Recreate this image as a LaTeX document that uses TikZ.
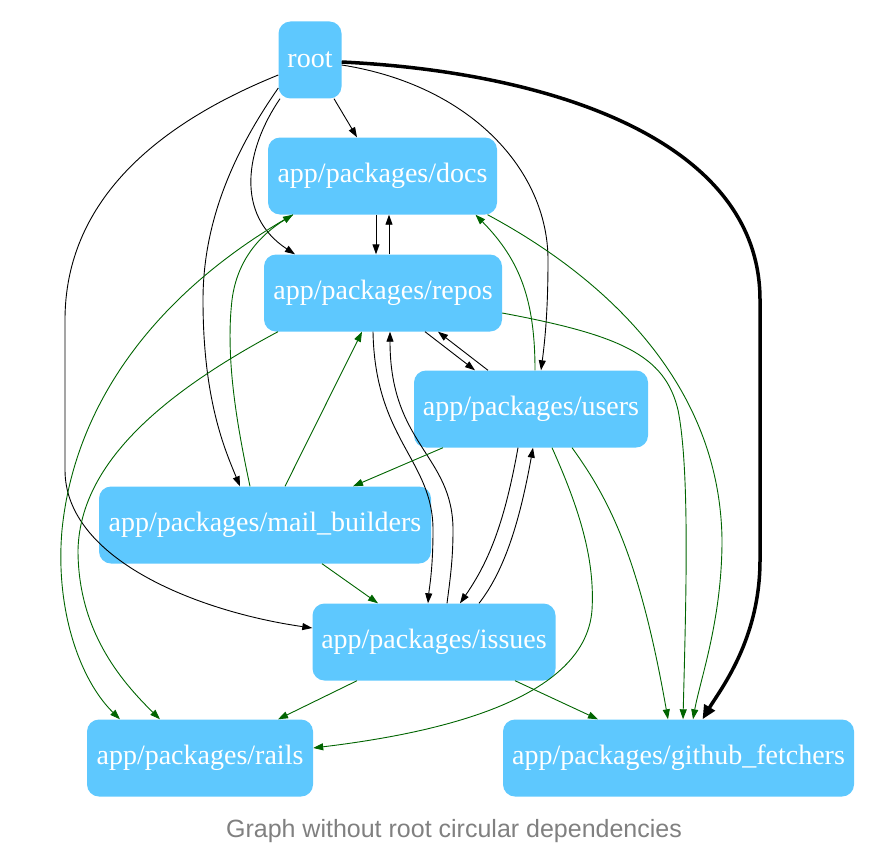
\documentclass[tikz,border=0pt]{standalone}
\usepackage{fontspec}
\setmainfont{Liberation Serif}
\newfontfamily\capfont{Liberation Sans}
\usetikzlibrary{arrows.meta}
\definecolor{nodeblue}{RGB}{94,200,254}
\definecolor{edgegreen}{RGB}{0,100,0}
\definecolor{capgray}{RGB}{128,128,128}
\begin{document}
\begin{tikzpicture}[x=1pt,y=-1pt,
  pkg/.style={fill=nodeblue, rounded corners=12pt, text=white, font=\fontsize{28}{32}\selectfont, inner sep=0pt, minimum height=77pt},
  dep/.style={draw=black, line width=0.9pt, -{Triangle[length=10pt,width=7pt]}},
  gdep/.style={draw=edgegreen, line width=0.9pt, -{Triangle[length=10pt,width=7pt]}},
  thickdep/.style={draw=black, line width=3.5pt, -{Triangle[length=14pt,width=12pt]}}]
\useasboundingbox (0,0) rectangle (882,864);
% nodes
\node[pkg, minimum width=63pt] (root) at (310,60) {root};
\node[pkg, minimum width=229pt] (docs) at (382.5,176) {app/packages/docs};
\node[pkg, minimum width=238pt] (repos) at (383,293) {app/packages/repos};
\node[pkg, minimum width=234pt] (users) at (531,409) {app/packages/users};
\node[pkg, minimum width=332pt] (mail) at (265,525) {app/packages/mail\_builders};
\node[pkg, minimum width=243pt] (issues) at (434,642) {app/packages/issues};
\node[pkg, minimum width=226pt] (rails) at (200,758) {app/packages/rails};
\node[pkg, minimum width=351pt] (gh) at (678.5,758) {app/packages/github\_fetchers};
\node[font=\capfont\fontsize{25}{28}\selectfont, text=capgray] (cap) at (454,831) {Graph without root circular dependencies};
% black edges
\draw[dep] ([xshift=24pt]root.south) -- ([xshift=-25.5pt]docs.north);
\draw[dep] ([xshift=-30pt]root.south) .. controls (245,150) and (235,215) .. ([xshift=-88pt]repos.north);
\draw[dep] ([yshift=-28pt]root.west) .. controls (235,150) and (203,220) .. (203,300) .. controls (203,400) and (225,450) .. ([xshift=-25pt]mail.north);
\draw[dep] ([yshift=-15pt]root.west) .. controls (130,135) and (65,220) .. (65,320) -- (65,470) .. controls (65,560) and (200,612) .. ([yshift=14pt]issues.west);
\draw[dep] ([yshift=-5pt]root.east) .. controls (470,85) and (548,170) .. (548,260) .. controls (548,310) and (545,340) .. ([xshift=10pt]users.north);
\draw[thickdep] ([yshift=-2pt]root.east) .. controls (550,72) and (760,140) .. (760,300) -- (760,560) .. controls (760,640) and (720,690) .. ([xshift=24pt]gh.north);
\draw[dep] ([xshift=-6.5pt]docs.south) -- ([xshift=-7pt]repos.north);
\draw[dep] ([xshift=6pt]repos.north) -- ([xshift=6.5pt]docs.south);
\draw[dep] ([xshift=42pt]repos.south) -- ([xshift=-56pt]users.north);
\draw[dep] ([xshift=-43pt]users.north) -- ([xshift=55pt]repos.south);
\draw[dep] ([xshift=-10pt]repos.south) .. controls (375,440) and (433,460) .. (433,530) .. controls (433,570) and (429,590) .. ([xshift=-6pt]issues.north);
\draw[dep] ([xshift=13pt]issues.north) .. controls (450,580) and (453,560) .. (453,530) .. controls (453,455) and (390,445) .. ([xshift=7pt]repos.south);
\draw[dep] ([xshift=-13pt]users.south) .. controls (505,520) and (490,560) .. ([xshift=26pt]issues.north);
\draw[dep] ([xshift=45pt]issues.north) .. controls (505,570) and (520,520) .. ([xshift=2pt]users.south);
% green edges
\draw[gdep] ([xshift=-15pt]mail.north) .. controls (238,430) and (225,360) .. (232,300) .. controls (237,260) and (260,235) .. ([xshift=-89.5pt]docs.south);
\draw[gdep] ([xshift=20pt]mail.north) -- ([xshift=-21pt]repos.south);
\draw[gdep] ([xshift=-88pt]users.south) -- ([xshift=88pt]mail.north);
\draw[gdep] ([xshift=57pt]mail.south) -- ([xshift=-56pt]issues.north);
\draw[gdep] ([xshift=-77pt]issues.south) -- ([xshift=78pt]rails.north);
\draw[gdep] ([xshift=81pt]issues.south) -- ([xshift=-80.5pt]gh.north);
\draw[gdep] ([xshift=21pt]users.south) .. controls (580,510) and (595,560) .. (592,610) .. controls (585,705) and (420,735) .. ([yshift=10pt]rails.east);
\draw[gdep] ([xshift=41pt]users.south) .. controls (610,500) and (640,560) .. ([xshift=-10.5pt]gh.north);
\draw[gdep] ([yshift=-20pt]repos.east) .. controls (620,335) and (665,355) .. (678,410) .. controls (690,470) and (686,600) .. ([xshift=4.5pt]gh.north);
\draw[gdep] ([xshift=105pt]docs.south) .. controls (600,275) and (720,380) .. (722,540) .. controls (722,620) and (700,680) .. ([xshift=14.5pt]gh.north);
\draw[gdep] ([xshift=4pt]users.north) .. controls (535,300) and (520,260) .. ([xshift=93pt]docs.south);
\draw[gdep] ([xshift=-89.5pt]docs.south) .. controls (160,290) and (75,400) .. (62,530) .. controls (55,610) and (80,680) .. ([xshift=-80pt]rails.north);
\draw[gdep] ([xshift=-105pt]repos.south) .. controls (150,400) and (80,470) .. (78,550) .. controls (78,630) and (120,680) .. ([xshift=-40pt]rails.north);
\end{tikzpicture}
\end{document}
